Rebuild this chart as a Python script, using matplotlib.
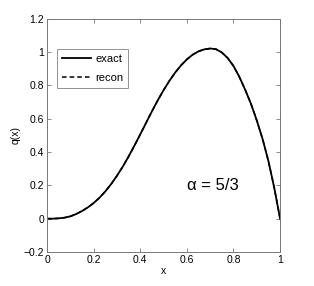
import matplotlib

matplotlib.use("Agg")
import matplotlib.pyplot as plt

plt.rcParams["font.family"] = ["Liberation Sans", "DejaVu Sans"]

# values
x_vals = [0.0, 0.025, 0.05, 0.075, 0.1, 0.125, 0.15, 0.175, 0.2, 0.225,
          0.25, 0.275, 0.3, 0.325, 0.35, 0.375, 0.4, 0.425, 0.45, 0.475,
          0.5, 0.525, 0.55, 0.575, 0.6, 0.625, 0.65, 0.675, 0.7, 0.725,
          0.75, 0.775, 0.8, 0.825, 0.85, 0.875, 0.9, 0.925, 0.95, 0.975, 1.0]
q_exact = [0.0, 0.0, 0.002, 0.006, 0.014, 0.028, 0.046, 0.068, 0.094, 0.126,
           0.164, 0.208, 0.258, 0.313, 0.374, 0.439, 0.507, 0.576, 0.645, 0.711,
           0.772, 0.828, 0.878, 0.921, 0.957, 0.985, 1.005, 1.017, 1.022, 1.018,
           0.998, 0.965, 0.917, 0.852, 0.775, 0.690, 0.590, 0.478, 0.345, 0.185, 0.0]
q_recon = list(q_exact)

x_ticks = [0, 0.2, 0.4, 0.6, 0.8, 1]
x_tick_labels = ["0", "0.2", "0.4", "0.6", "0.8", "1"]
y_ticks = [-0.2, 0, 0.2, 0.4, 0.6, 0.8, 1, 1.2]
y_tick_labels = ["\u22120.2", "0", "0.2", "0.4", "0.6", "0.8", "1", "1.2"]

fig = plt.figure(figsize=(3.14, 2.86), dpi=100)
ax = fig.add_axes([0.150, 0.119, 0.742, 0.815])

ax.plot(x_vals, q_exact, color="black", linewidth=1.3, linestyle="-", label="exact")
ax.plot(x_vals, q_recon, color="black", linewidth=1.1, linestyle=(0, (3, 2)), label="recon")

ax.set_xlim(0, 1)
ax.set_ylim(-0.2, 1.2)
ax.set_xticks(x_ticks)
ax.set_xticklabels(x_tick_labels)
ax.set_yticks(y_ticks)
ax.set_yticklabels(y_tick_labels)
ax.tick_params(direction="in", length=3, width=0.6, color="#777777",
               labelsize=7.5, top=True, right=True, pad=2)
for spine in ax.spines.values():
    spine.set_color("#777777")
    spine.set_linewidth(0.7)

ax.set_xlabel("x", fontsize=7.5, labelpad=1)
ax.set_ylabel("q(x)", fontsize=7.5, labelpad=2)

ax.text(0.6, 0.2, "\u03b1 = 5/3", fontsize=12, va="center", ha="left")

leg = ax.legend(loc="upper left", bbox_to_anchor=(0.042, 0.872), fontsize=8,
                frameon=True, fancybox=False, handlelength=2.6, borderpad=0.45,
                labelspacing=0.85, handletextpad=0.4, borderaxespad=0)
leg.get_frame().set_edgecolor("#777777")
leg.get_frame().set_linewidth(0.7)

fig.savefig("out.png", dpi=100)
